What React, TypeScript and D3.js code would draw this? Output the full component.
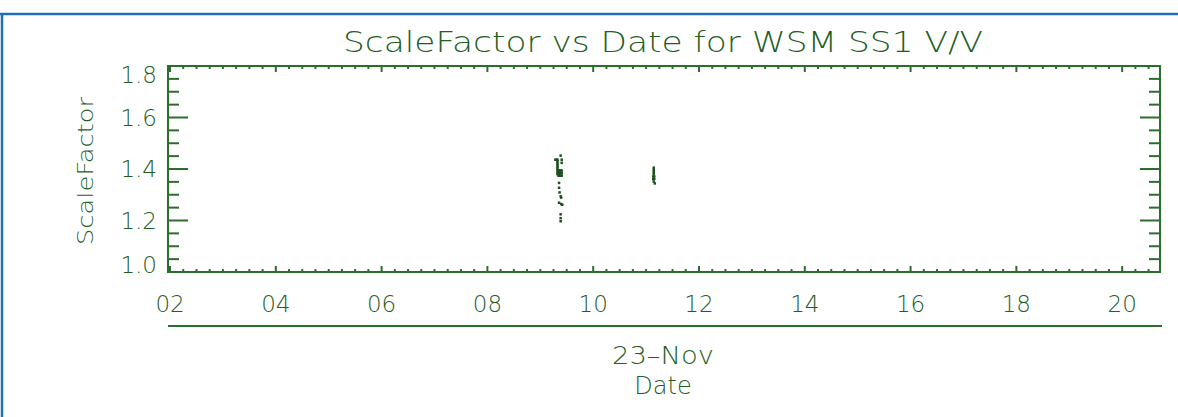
import React from "react";
import * as d3 from "d3";

// x axis: hours of 23-Nov
const xTickHours = [2, 4, 6, 8, 10, 12, 14, 16, 18, 20];
const xTickLabels = ["02", "04", "06", "08", "10", "12", "14", "16", "18", "20"];
const yTickValues = [1.0, 1.2, 1.4, 1.6, 1.8];
const yTickLabels = ["1.0", "1.2", "1.4", "1.6", "1.8"];

// first pass, around 09:20
const pass1Hours = [
  9.38, 9.40, 9.40,
  9.28, 9.30, 9.32, 9.32, 9.32, 9.32, 9.32, 9.32, 9.32, 9.32, 9.32,
  9.34, 9.36, 9.38, 9.40, 9.34, 9.36, 9.38, 9.40, 9.34, 9.36, 9.38, 9.40,
  9.35, 9.35, 9.36, 9.38, 9.39, 9.35, 9.39, 9.41, 9.38, 9.38, 9.38,
];
const pass1Scale = [
  1.453, 1.437, 1.425,
  1.437, 1.437, 1.437, 1.430, 1.423, 1.416, 1.409, 1.402, 1.395, 1.388, 1.381,
  1.395, 1.395, 1.395, 1.395, 1.385, 1.385, 1.385, 1.385, 1.375, 1.375, 1.375, 1.375,
  1.347, 1.328, 1.310, 1.295, 1.290, 1.270, 1.265, 1.262, 1.225, 1.210, 1.198,
];

// second pass, around 11:10
const pass2Hours = [11.14, 11.14, 11.14, 11.14, 11.13, 11.15, 11.13, 11.15, 11.14, 11.16];
const pass2Scale = [1.406, 1.398, 1.390, 1.382, 1.372, 1.372, 1.362, 1.362, 1.352, 1.345];

const WIDTH = 1178;
const HEIGHT = 417;
const MARGIN = { top: 66, right: 18, bottom: 145, left: 168 };
const GREEN = "#2b6e2b";
const TEXT = "#1f601f";
const FONT = "'DejaVu Sans', sans-serif";
const WEIGHT = 200;

const App = () => {
  const boundsWidth = WIDTH - MARGIN.left - MARGIN.right;
  const boundsHeight = HEIGHT - MARGIN.top - MARGIN.bottom;

  const xScale = d3.scaleLinear().domain([1.962, 20.715]).range([0, boundsWidth]);
  const yScale = d3.scaleLinear().domain([1.0, 1.8]).range([boundsHeight, 0]);

  const xMinor = d3.range(2, 20.75, 0.25);
  const yMinor = d3.range(1.0, 1.801, 0.05);

  const points = [
    ...pass1Hours.map((h, i) => ({ h, v: pass1Scale[i] })),
    ...pass2Hours.map((h, i) => ({ h, v: pass2Scale[i] })),
  ];

  return (
    <svg
      width={WIDTH}
      height={HEIGHT}
      style={{ position: "absolute", left: 0, top: 0, background: "#fff" }}
    >
      {/* outer frame */}
      <line x1={0} x2={WIDTH} y1={14} y2={14} stroke="#1f6fb2" strokeWidth={2.5} />
      <line x1={2} x2={2} y1={14} y2={HEIGHT} stroke="#1f6fb2" strokeWidth={2.5} />

      <text
        x={663}
        y={52}
        textAnchor="middle"
        fontFamily={FONT}
        fontWeight={WEIGHT}
        fontSize={29}
        fill={TEXT}
        textLength={640}
        lengthAdjust="spacingAndGlyphs"
      >
        ScaleFactor vs Date for WSM SS1 V/V
      </text>

      <g transform={`translate(${MARGIN.left},${MARGIN.top})`}>
        {/* x ticks */}
        {xMinor.map((h, i) => {
          const major = Math.abs(h - Math.round(h / 2) * 2) < 1e-6;
          const len = major ? 6 : 3;
          const x = xScale(h);
          return (
            <g key={"xm" + i} stroke={GREEN} strokeWidth={2}>
              <line x1={x} x2={x} y1={boundsHeight} y2={boundsHeight - len} />
              <line x1={x} x2={x} y1={0} y2={len} />
            </g>
          );
        })}
        {/* y ticks */}
        {yMinor.map((v, i) => {
          const major = i % 4 === 0;
          const len = major ? 20 : 11;
          const y = yScale(v);
          return (
            <g key={"ym" + i} stroke={GREEN} strokeWidth={2}>
              <line x1={0} x2={len} y1={y} y2={y} />
              <line x1={boundsWidth} x2={boundsWidth - len} y1={y} y2={y} />
            </g>
          );
        })}

        <rect
          x={0}
          y={0}
          width={boundsWidth}
          height={boundsHeight}
          fill="none"
          stroke={GREEN}
          strokeWidth={2}
        />

        {/* data */}
        {points.map((p, i) => (
          <rect
            key={i}
            x={xScale(p.h) - 1}
            y={yScale(p.v) - 1}
            width={2.5}
            height={2.5}
            fill="#1d4f1d"
          />
        ))}

        {/* y labels */}
        {yTickValues.map((v, i) => {
          const y = Math.min(Math.max(yScale(v), 9), boundsHeight - 7);
          return (
            <text
              key={"yl" + i}
              x={-11}
              y={y}
              dy="0.36em"
              textAnchor="end"
              fontFamily={FONT}
              fontWeight={WEIGHT}
              fontSize={23}
              fill={TEXT}
            >
              {yTickLabels[i]}
            </text>
          );
        })}

        {/* x labels */}
        {xTickHours.map((h, i) => (
          <text
            key={"xl" + i}
            x={xScale(h)}
            y={238}
            dy="0.36em"
            textAnchor="middle"
            fontFamily={FONT}
            fontWeight={WEIGHT}
            fontSize={23}
            fill={TEXT}
          >
            {xTickLabels[i]}
          </text>
        ))}

        <line x1={0} x2={boundsWidth + 2} y1={260} y2={260} stroke={GREEN} strokeWidth={2} />

        <text
          x={495}
          y={289}
          dy="0.36em"
          textAnchor="middle"
          fontFamily={FONT}
          fontWeight={WEIGHT}
          fontSize={24}
          fill={TEXT}
          textLength={102}
          lengthAdjust="spacingAndGlyphs"
        >
          23–Nov
        </text>
        <text
          x={495}
          y={319}
          dy="0.36em"
          textAnchor="middle"
          fontFamily={FONT}
          fontWeight={WEIGHT}
          fontSize={24}
          fill={TEXT}
        >
          Date
        </text>

        <text
          transform={`translate(${-83},${105}) rotate(-90)`}
          textAnchor="middle"
          dy="0.36em"
          fontFamily={FONT}
          fontWeight={WEIGHT}
          fontSize={22}
          fill={TEXT}
          textLength={148}
          lengthAdjust="spacingAndGlyphs"
        >
          ScaleFactor
        </text>
      </g>
    </svg>
  );
};

export default App;
